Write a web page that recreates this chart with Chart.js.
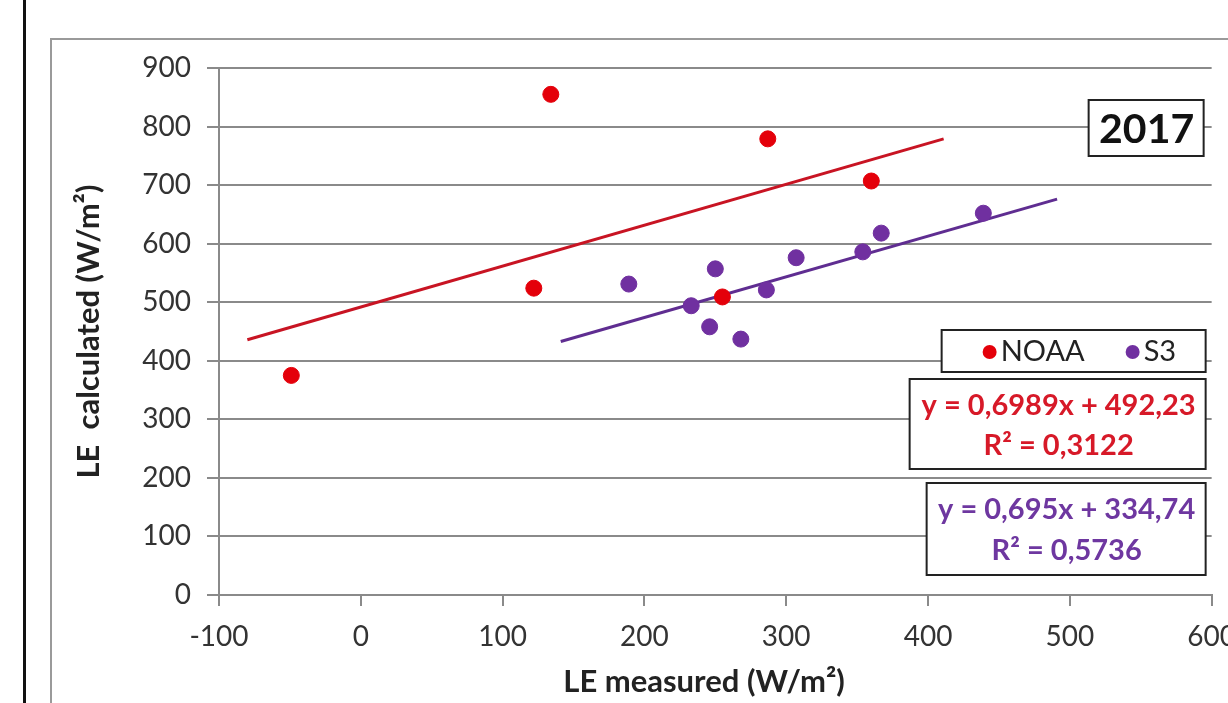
<!DOCTYPE html>
<html>
<head>
<meta charset="utf-8">
<script src="https://cdn.jsdelivr.net/npm/chart.js@4.4.1/dist/chart.umd.min.js"></script>
<style>
    html, body { margin: 0; padding: 0; background: #fff; overflow: hidden; }
    #wrap { position: absolute; left: 0; top: 0; width: 1250px; height: 703px; }
</style>
</head>
<body>
<div id="wrap"><canvas id="le-chart" width="1250" height="703"></canvas></div>
<script>
// Values
const noaa_x = [134, 287, 360, 122, 255, -49];
const noaa_y = [855, 779, 707, 524, 509, 375];

const s3_x = [189, 250, 233, 246, 268, 286, 307, 354, 367, 439];
const s3_y = [531, 557, 494, 458, 437, 521, 576, 586, 618, 652];

// Trend line end points (as drawn in the picture)
const noaa_trend_x = [-80, 411];
const noaa_trend_y = [436, 779];
const s3_trend_x = [141, 491];
const s3_trend_y = [433, 676];

const noaa_eq = ["y = 0,6989x + 492,23", "R² = 0,3122"];
const s3_eq = ["y = 0,695x + 334,74", "R² = 0,5736"];
const year_label = "2017";

const x_ticks = [-100, 0, 100, 200, 300, 400, 500, 600];
const y_ticks = [0, 100, 200, 300, 400, 500, 600, 700, 800, 900];

const red = "rgb(228, 0, 10)";
const red_line = "rgb(200, 20, 35)";
const purple = "rgb(112, 48, 160)";
const purple_line = "rgb(95, 45, 145)";
const font_family = "Lato, 'Open Sans', sans-serif";

function to_points(xs, ys) {
    return xs.map((x, i) => ({ x: x, y: ys[i] }));
}

// Draw the outer frame behind the chart
const frame_plugin = {
    id: "frame",
    beforeDraw(chart) {
        const ctx = chart.ctx;
        ctx.save();
        ctx.fillStyle = "#fff";
        ctx.fillRect(0, 0, chart.width, chart.height);
        ctx.fillStyle = "#111";
        ctx.fillRect(23, 0, 3, chart.height);
        ctx.strokeStyle = "#9a9a9a";
        ctx.lineWidth = 2;
        ctx.strokeRect(51, 39, chart.width + 50, chart.height + 50);
        ctx.restore();
    }
};

// Text boxes: year, legend and equations
const boxes_plugin = {
    id: "boxes",
    afterDraw(chart) {
        const ctx = chart.ctx;
        const right = chart.chartArea.right;

        function box(x1, y1, x2, y2) {
            ctx.fillStyle = "#fff";
            ctx.fillRect(x1, y1, x2 - x1, y2 - y1);
            ctx.strokeStyle = "#222";
            ctx.lineWidth = 2;
            ctx.strokeRect(x1, y1, x2 - x1, y2 - y1);
        }

        ctx.save();
        ctx.textBaseline = "middle";

        // 2017
        box(right - 123, 100, right - 8, 156);
        ctx.fillStyle = "#111";
        ctx.font = "bold 41px " + font_family;
        ctx.textAlign = "center";
        ctx.fillText(year_label, right - 65, 130);

        // legend
        box(right - 270, 330, right - 6, 372);
        const labels = chart.data.datasets.filter((d) => d.in_legend);
        let lx = right - 222;
        labels.forEach((d) => {
            ctx.fillStyle = d.backgroundColor;
            ctx.beginPath();
            ctx.arc(lx, 352, 7, 0, Math.PI * 2);
            ctx.fill();
            ctx.fillStyle = "#222";
            ctx.font = "29px " + font_family;
            ctx.textAlign = "left";
            ctx.fillText(d.label, lx + 11, 352);
            lx += 143;
        });

        // equations
        box(right - 302, 379, right - 6, 469);
        ctx.fillStyle = "rgb(215, 25, 40)";
        ctx.font = "bold 29px " + font_family;
        ctx.textAlign = "center";
        ctx.fillText(noaa_eq[0], right - 153, 406);
        ctx.fillText(noaa_eq[1], right - 153, 446);

        box(right - 285, 483, right - 6, 575);
        ctx.fillStyle = "rgb(110, 55, 160)";
        ctx.fillText(s3_eq[0], right - 145, 510);
        ctx.fillText(s3_eq[1], right - 145, 551);

        ctx.restore();
    }
};

const data = {
    datasets: [{
        label: "NOAA",
        in_legend: true,
        data: to_points(noaa_x, noaa_y),
        backgroundColor: red,
        borderColor: red,
        pointRadius: 8,
        pointHoverRadius: 8,
        order: 0
    }, {
        label: "S3",
        in_legend: true,
        data: to_points(s3_x, s3_y),
        backgroundColor: purple,
        borderColor: purple,
        pointRadius: 8,
        pointHoverRadius: 8,
        order: 0
    }, {
        label: "NOAA trend",
        data: to_points(noaa_trend_x, noaa_trend_y),
        showLine: true,
        borderColor: red_line,
        borderWidth: 3,
        pointRadius: 0,
        order: 1
    }, {
        label: "S3 trend",
        data: to_points(s3_trend_x, s3_trend_y),
        showLine: true,
        borderColor: purple_line,
        borderWidth: 3,
        pointRadius: 0,
        order: 1
    }]
};

const config = {
    type: "scatter",
    data: data,
    options: {
        responsive: false,
        animation: false,
        layout: {
            padding: { left: 70, top: 68, right: 37, bottom: 0 }
        },
        scales: {
            x: {
                type: "linear",
                min: -100,
                max: 600,
                afterBuildTicks: (scale) => {
                    scale.ticks = x_ticks.map((v) => ({ value: v }));
                },
                afterFit: (scale) => { scale.height = 108; },
                grid: {
                    drawOnChartArea: false,
                    drawTicks: true,
                    tickLength: 11,
                    color: "#8a8a8a",
                    lineWidth: 2
                },
                border: { display: true, color: "#8a8a8a", width: 2 },
                ticks: {
                    padding: 14,
                    color: "#333",
                    font: { family: font_family, size: 28 }
                },
                title: {
                    display: true,
                    text: "LE measured (W/m²)   ",
                    color: "#222",
                    padding: { top: 0, bottom: 2 },
                    font: { family: font_family, size: 31, weight: "bold" }
                }
            },
            y: {
                type: "linear",
                min: 0,
                max: 900,
                afterBuildTicks: (scale) => {
                    scale.ticks = y_ticks.map((v) => ({ value: v }));
                },
                afterFit: (scale) => { scale.width = 149; },
                grid: {
                    drawOnChartArea: true,
                    drawTicks: true,
                    tickLength: 12,
                    color: "#8a8a8a",
                    lineWidth: 2
                },
                border: { display: true, color: "#8a8a8a", width: 2 },
                ticks: {
                    padding: 16,
                    color: "#333",
                    font: { family: font_family, size: 28 }
                },
                title: {
                    display: true,
                    text: "LE  calculated (W/m²)",
                    color: "#222",
                    padding: { top: 0, bottom: 0 },
                    font: { family: font_family, size: 31, weight: "bold" }
                }
            }
        },
        plugins: {
            legend: { display: false },
            tooltip: { enabled: false }
        }
    },
    plugins: [frame_plugin, boxes_plugin]
};

new Chart(document.getElementById("le-chart").getContext("2d"), config);
</script>
</body>
</html>
